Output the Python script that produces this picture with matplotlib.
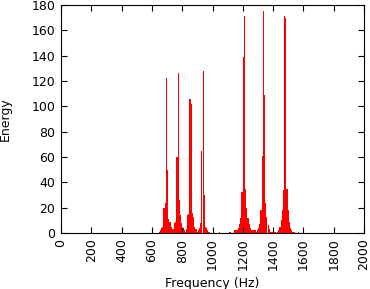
"""
DTMF spectrum chart — energy per FFT bin, drawn gnuplot-style with impulses.
"""

import matplotlib
matplotlib.use("Agg")
import matplotlib.pyplot as plt

# FFT bin centres (Hz) with non-zero energy, grouped round each DTMF tone
freqs = [
    648, 656, 664, 672, 680, 688, 695, 703, 711, 719, 727, 734,
    742, 750, 758, 766, 773, 781, 789, 797, 805, 813,
    820, 828, 836, 844, 852, 859, 867, 875, 883, 891, 898,
    906, 914, 922, 930, 938, 945, 953, 961, 969, 977,
    1005, 1045, 1115, 1148, 1156,
    1164, 1172, 1180, 1188, 1195, 1203, 1211, 1219, 1227, 1234, 1242, 1250,
    1258, 1266, 1273, 1281, 1289,
    1297, 1305, 1313, 1320, 1328, 1336, 1344, 1352, 1359, 1367, 1375,
    1383, 1391, 1398, 1406, 1414,
    1430, 1438, 1445, 1453, 1461, 1469, 1477, 1484, 1492, 1500, 1508, 1516,
    1523, 1531, 1539, 1570,
]
energy = [
    1, 2, 4, 5, 20, 24, 122, 50, 11, 9, 5, 3,
    3, 8, 9, 60, 126, 26, 14, 8, 4, 2,
    1, 3, 14, 15, 106, 102, 16, 13, 5, 3, 1,
    2, 4, 8, 65, 128, 30, 5, 4, 2, 1,
    1, 1, 1, 2, 2,
    2, 4, 7, 12, 32, 139, 171, 35, 20, 12, 7, 4,
    2, 2, 2, 2, 1,
    2, 4, 7, 18, 61, 175, 109, 24, 13, 6, 3,
    1, 1, 1, 1, 1,
    1, 2, 5, 10, 18, 34, 171, 170, 35, 18, 9, 4,
    2, 1, 1, 1,
]

xticks = list(range(0, 2001, 200))
yticks = list(range(0, 181, 20))

plt.rcParams["font.family"] = "DejaVu Sans"

fig = plt.figure(figsize=(3.70, 2.89), dpi=100)
ax = fig.add_axes([61 / 370, 1 - 233 / 289, 303 / 370, 228 / 289])

ax.bar(freqs, energy, width=7.8, color="#ff0000", linewidth=0, antialiased=False)

ax.set_xlim(0, 2000)
ax.set_ylim(0, 180)
ax.set_xticks(xticks)
ax.set_yticks(yticks)
ax.set_xticklabels([str(t) for t in xticks], rotation=90, fontsize=9)
ax.set_yticklabels([str(t) for t in yticks], fontsize=9)
ax.tick_params(direction="in", top=True, right=True, length=4, width=0.8, pad=4)
ax.set_xlabel("Frequency (Hz)", fontsize=9, labelpad=5)
ax.set_ylabel("Energy", fontsize=9, labelpad=14)
for s in ax.spines.values():
    s.set_linewidth(0.8)

fig.savefig("out.png", dpi=100)
plt.close(fig)
